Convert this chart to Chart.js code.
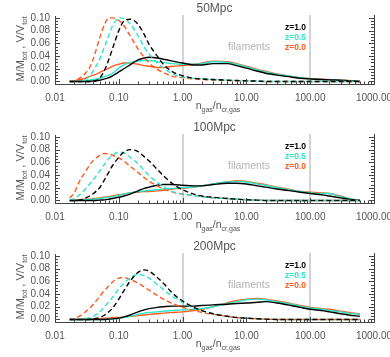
<!DOCTYPE html>
<html>
<head>
<meta charset="utf-8">
<script src="https://cdn.jsdelivr.net/npm/chart.js@4.4.0/dist/chart.umd.min.js"></script>
<style>
  html, body { margin: 0; padding: 0; background: #fff; }
  .panel { width: 390px; height: 119px; position: relative; }
</style>
</head>
<body>
<div class="panel"><canvas id="c50" width="390" height="119"></canvas></div>
<div class="panel"><canvas id="c100" width="390" height="119"></canvas></div>
<div class="panel"><canvas id="c200" width="390" height="119"></canvas></div>
<script>
// density grid (n_gas / n_cr,gas)
const xVals = [0.017, 0.02, 0.025, 0.03, 0.035, 0.04, 0.05, 0.06, 0.07, 0.08, 0.1, 0.12, 0.15, 0.2, 0.25, 0.3, 0.4, 0.5, 0.7,
  1, 1.5, 2, 3, 5, 7, 10, 15, 20, 30, 50, 70, 100, 150, 200, 300, 400, 600];

const xTickVals = [0.01, 0.1, 1, 10, 100, 1000];
const yTickVals = [0, 0.02, 0.04, 0.06, 0.08, 0.1];
const markerLines = [1, 100];
const redshifts = ['z=1.0', 'z=0.5', 'z=0.0'];
const titles = ['50Mpc', '100Mpc', '200Mpc'];

// 50 Mpc : volume fraction (dashed)
const vol50_z10 = [0, 0, 0, 0, 0, 0, 0.005, 0.018, 0.035, 0.052, 0.08, 0.095, 0.098, 0.09, 0.074, 0.058, 0.04, 0.027, 0.015,
  0.009, 0.005, 0.004, 0.003, 0.002, 0.0015, 0.001, 0.0005, 0, 0, 0, 0, 0, 0, 0, 0, 0, 0];
const vol50_z05 = [0, 0, 0, 0.003, 0.009, 0.017, 0.035, 0.055, 0.073, 0.088, 0.1, 0.099, 0.091, 0.072, 0.054, 0.043, 0.029, 0.021, 0.012,
  0.007, 0.005, 0.004, 0.003, 0.002, 0.0015, 0.001, 0.0005, 0, 0, 0, 0, 0, 0, 0, 0, 0, 0];
const vol50_z00 = [0, 0.001, 0.006, 0.013, 0.022, 0.036, 0.068, 0.09, 0.1, 0.1, 0.096, 0.088, 0.072, 0.051, 0.038, 0.029, 0.019, 0.014, 0.008,
  0.006, 0.004, 0.003, 0.002, 0.0015, 0.001, 0.001, 0.0005, 0, 0, 0, 0, 0, 0, 0, 0, 0, 0];
// 50 Mpc : mass fraction (solid)
const mass50_z10 = [0, 0, 0, 0, 0, 0.001, 0.002, 0.004, 0.006, 0.009, 0.015, 0.02, 0.026, 0.034, 0.037, 0.038, 0.037, 0.035, 0.032,
  0.029, 0.026, 0.026, 0.028, 0.028, 0.025, 0.021, 0.016, 0.013, 0.01, 0.007, 0.005, 0.004, 0.003, 0.0025, 0.002, 0.001, 0];
const mass50_z05 = [0, 0, 0, 0.001, 0.002, 0.003, 0.005, 0.008, 0.01, 0.013, 0.021, 0.026, 0.03, 0.032, 0.033, 0.033, 0.031, 0.03, 0.028,
  0.027, 0.027, 0.028, 0.031, 0.03, 0.027, 0.023, 0.018, 0.015, 0.011, 0.008, 0.006, 0.004, 0.003, 0.0025, 0.002, 0.001, 0];
const mass50_z00 = [0, 0.001, 0.003, 0.005, 0.008, 0.01, 0.014, 0.018, 0.021, 0.024, 0.027, 0.029, 0.029, 0.027, 0.025, 0.024, 0.022, 0.022, 0.024,
  0.025, 0.027, 0.029, 0.032, 0.031, 0.028, 0.024, 0.019, 0.016, 0.012, 0.008, 0.006, 0.0045, 0.0035, 0.003, 0.002, 0.0015, 0];

// 100 Mpc : volume fraction (dashed)
const vol100_z10 = [0, 0, 0.001, 0.004, 0.007, 0.011, 0.02, 0.033, 0.045, 0.055, 0.068, 0.076, 0.08, 0.077, 0.069, 0.062, 0.049, 0.039, 0.026,
  0.017, 0.01, 0.007, 0.005, 0.003, 0.002, 0.001, 0.0005, 0, 0, 0, 0, 0, 0, 0, 0, 0, 0];
const vol100_z05 = [0, 0.003, 0.01, 0.018, 0.026, 0.033, 0.046, 0.057, 0.066, 0.071, 0.076, 0.075, 0.068, 0.058, 0.047, 0.039, 0.029, 0.022, 0.014,
  0.01, 0.008, 0.006, 0.004, 0.003, 0.002, 0.001, 0.0005, 0, 0, 0, 0, 0, 0, 0, 0, 0, 0];
const vol100_z00 = [0.004, 0.012, 0.033, 0.045, 0.056, 0.063, 0.071, 0.074, 0.073, 0.071, 0.067, 0.062, 0.054, 0.044, 0.036, 0.03, 0.023, 0.018, 0.013,
  0.01, 0.008, 0.006, 0.004, 0.003, 0.002, 0.001, 0.0005, 0, 0, 0, 0, 0, 0, 0, 0, 0, 0];
// 100 Mpc : mass fraction (solid)
const mass100_z10 = [0, 0, 0, 0, 0, 0, 0.0005, 0.001, 0.002, 0.003, 0.005, 0.007, 0.01, 0.015, 0.019, 0.021, 0.024, 0.025, 0.025,
  0.024, 0.023, 0.023, 0.025, 0.027, 0.027, 0.026, 0.023, 0.021, 0.018, 0.015, 0.013, 0.011, 0.009, 0.007, 0.004, 0.002, 0];
const mass100_z05 = [0, 0, 0.0005, 0.001, 0.0015, 0.002, 0.003, 0.004, 0.005, 0.006, 0.008, 0.01, 0.012, 0.014, 0.015, 0.016, 0.017, 0.018, 0.019,
  0.02, 0.021, 0.023, 0.026, 0.029, 0.03, 0.029, 0.026, 0.024, 0.02, 0.016, 0.014, 0.012, 0.011, 0.011, 0.006, 0.003, 0];
const mass100_z00 = [0, 0.0005, 0.001, 0.002, 0.002, 0.003, 0.004, 0.005, 0.006, 0.007, 0.009, 0.01, 0.012, 0.013, 0.014, 0.014, 0.015, 0.016, 0.018,
  0.019, 0.021, 0.023, 0.026, 0.029, 0.031, 0.03, 0.027, 0.025, 0.021, 0.017, 0.014, 0.013, 0.012, 0.011, 0.007, 0.003, 0];

// 200 Mpc : volume fraction (dashed)
const vol200_z10 = [0, 0, 0, 0, 0, 0.001, 0.003, 0.007, 0.012, 0.018, 0.032, 0.045, 0.06, 0.074, 0.078, 0.076, 0.066, 0.057, 0.041,
  0.029, 0.019, 0.014, 0.009, 0.005, 0.003, 0.002, 0.001, 0.0005, 0, 0, 0, 0, 0, 0, 0, 0, 0];
const vol200_z05 = [0, 0, 0, 0.001, 0.003, 0.005, 0.012, 0.02, 0.028, 0.035, 0.048, 0.057, 0.065, 0.071, 0.069, 0.065, 0.055, 0.047, 0.036,
  0.027, 0.018, 0.014, 0.009, 0.005, 0.003, 0.002, 0.001, 0.0005, 0, 0, 0, 0, 0, 0, 0, 0, 0];
const vol200_z00 = [0, 0.001, 0.006, 0.012, 0.018, 0.024, 0.036, 0.046, 0.053, 0.059, 0.065, 0.066, 0.063, 0.057, 0.051, 0.046, 0.038, 0.032, 0.025,
  0.019, 0.014, 0.011, 0.008, 0.005, 0.003, 0.002, 0.001, 0.0005, 0, 0, 0, 0, 0, 0, 0, 0, 0];
// 200 Mpc : mass fraction (solid)
const mass200_z10 = [0, 0, 0, 0, 0, 0, 0, 0, 0.0005, 0.001, 0.002, 0.004, 0.007, 0.012, 0.015, 0.017, 0.019, 0.02, 0.021,
  0.021, 0.021, 0.022, 0.023, 0.024, 0.025, 0.026, 0.027, 0.028, 0.026, 0.022, 0.019, 0.016, 0.014, 0.012, 0.009, 0.007, 0.005];
const mass200_z05 = [0, 0, 0, 0, 0, 0, 0, 0, 0.0005, 0.001, 0.002, 0.003, 0.005, 0.008, 0.01, 0.011, 0.012, 0.013, 0.014,
  0.015, 0.016, 0.017, 0.02, 0.025, 0.028, 0.031, 0.032, 0.031, 0.028, 0.024, 0.021, 0.018, 0.016, 0.014, 0.012, 0.01, 0.008];
const mass200_z00 = [0, 0, 0, 0.0005, 0.001, 0.001, 0.001, 0.002, 0.002, 0.003, 0.003, 0.004, 0.005, 0.006, 0.007, 0.008, 0.009, 0.01, 0.011,
  0.012, 0.014, 0.016, 0.02, 0.026, 0.03, 0.032, 0.033, 0.032, 0.029, 0.025, 0.022, 0.019, 0.017, 0.016, 0.013, 0.011, 0.009];

const colors = ['#000000', '#2ee6c8', '#ff5a1e'];
const FONT = '"Liberation Sans", Arial, Helvetica, sans-serif';
const TEXT = '#555555';

// draw text with subscripts, parts = [[text, isSub], ...]
function richWidth(ctx, parts, size, subSize) {
  let w = 0;
  parts.forEach(([t, sub]) => {
    ctx.font = (sub ? subSize : size) + 'px ' + FONT;
    w += ctx.measureText(t).width;
  });
  return w;
}
function drawRich(ctx, parts, x, y, size, subSize) {
  let cx = x;
  parts.forEach(([t, sub]) => {
    ctx.font = (sub ? subSize : size) + 'px ' + FONT;
    ctx.fillText(t, cx, sub ? y + 2.5 : y);
    cx += ctx.measureText(t).width;
  });
}

const decor = {
  id: 'decor',
  beforeDatasetsDraw(chart) {
    const { ctx, chartArea: a, scales: { x } } = chart;
    ctx.save();
    ctx.strokeStyle = '#c6c6c6';
    ctx.lineWidth = 1.5;
    markerLines.forEach(v => {
      const px = Math.round(x.getPixelForValue(v));
      ctx.beginPath();
      ctx.moveTo(px, a.top - 1);
      ctx.lineTo(px, a.bottom);
      ctx.stroke();
    });
    ctx.restore();
  },
  afterDraw(chart, args, opts) {
    const { ctx, chartArea: a, scales: { x, y } } = chart;
    ctx.save();
    ctx.strokeStyle = '#444';
    ctx.lineWidth = 1;

    // right axis line
    ctx.beginPath();
    ctx.moveTo(a.right + 0.5, a.top - 1);
    ctx.lineTo(a.right + 0.5, a.bottom);
    ctx.stroke();

    // y ticks, inward on both sides
    for (let v = 0; v <= 0.1001; v += 0.005) {
      const major = Math.abs(v / 0.02 - Math.round(v / 0.02)) < 1e-6;
      const len = major ? 5 : 3;
      const py = Math.round(y.getPixelForValue(v)) + 0.5;
      ctx.beginPath();
      ctx.moveTo(a.left, py); ctx.lineTo(a.left + len, py);
      ctx.moveTo(a.right, py); ctx.lineTo(a.right - len, py);
      ctx.stroke();
    }
    // x ticks, inward
    for (let d = -2; d <= 2; d++) {
      for (let m = 1; m <= 9; m++) {
        const v = m * Math.pow(10, d);
        const px = Math.round(x.getPixelForValue(v)) + 0.5;
        const len = m === 1 ? 5 : 2.5;
        ctx.beginPath();
        ctx.moveTo(px, a.bottom); ctx.lineTo(px, a.bottom - len);
        ctx.stroke();
      }
    }
    const pr = Math.round(x.getPixelForValue(1000)) + 0.5;
    ctx.beginPath(); ctx.moveTo(pr, a.bottom); ctx.lineTo(pr, a.bottom - 5); ctx.stroke();

    // panel title
    ctx.fillStyle = TEXT;
    ctx.textBaseline = 'middle';
    ctx.textAlign = 'center';
    ctx.font = '12px ' + FONT;
    ctx.fillText(opts.title, (a.left + a.right) / 2, 9);

    // filaments label
    ctx.fillStyle = '#b4b4b4';
    ctx.font = '10.5px ' + FONT;
    ctx.fillText('filaments', 249, 47);

    // legend
    ctx.textAlign = 'left';
    ctx.font = 'bold 8.5px ' + FONT;
    redshifts.forEach((z, i) => {
      ctx.fillStyle = colors[i];
      ctx.fillText(z, 285, 28 + i * 10);
    });

    // x axis title
    ctx.fillStyle = TEXT;
    ctx.textBaseline = 'alphabetic';
    const xt = [['n', false], ['gas', true], ['/n', false], ['cr,gas', true]];
    const xw = richWidth(ctx, xt, 10.5, 7);
    drawRich(ctx, xt, 218 - xw / 2, 109, 10.5, 7);

    // y axis title, rotated
    const yt = [['M/M', false], ['tot', true], [' , V/V', false], ['tot', true]];
    const yw = richWidth(ctx, yt, 11, 7.5);
    ctx.translate(24, 49);
    ctx.rotate(-Math.PI / 2);
    drawRich(ctx, yt, -yw / 2, 0, 11, 7.5);
    ctx.restore();
  }
};

function toPoints(arr) {
  return xVals.map((v, i) => ({ x: v, y: arr[i] }));
}

function makePanel(id, title, massSeries, volSeries) {
  const datasets = [];
  volSeries.forEach((s, i) => datasets.push({
    data: toPoints(s), borderColor: colors[i], borderWidth: 1.4, borderDash: [5, 3]
  }));
  massSeries.forEach((s, i) => datasets.push({
    data: toPoints(s), borderColor: colors[i], borderWidth: 1.4
  }));

  new Chart(document.getElementById(id), {
    type: 'line',
    data: { datasets },
    options: {
      responsive: false,
      animation: false,
      devicePixelRatio: 1,
      layout: { padding: { top: 16, right: 16, left: 0, bottom: 0 } },
      elements: {
        point: { radius: 0 },
        line: { cubicInterpolationMode: 'monotone', fill: false }
      },
      plugins: { legend: { display: false }, tooltip: { enabled: false }, decor: { title } },
      scales: {
        x: {
          type: 'logarithmic', min: 0.01, max: 1000,
          grid: { display: false, drawTicks: false },
          border: { display: true, color: '#444', width: 1 },
          afterBuildTicks: s => { s.ticks = xTickVals.map(v => ({ value: v })); },
          afterFit: s => { s.height = 35; s.paddingLeft = 0; s.paddingRight = 0; },
          ticks: {
            autoSkip: false, maxRotation: 0, padding: 8, color: TEXT,
            font: { family: FONT, size: 10 },
            callback: v => Number(v).toFixed(2)
          }
        },
        y: {
          min: -0.004, max: 0.103,
          grid: { display: false, drawTicks: false },
          border: { display: true, color: '#444', width: 1 },
          afterBuildTicks: s => { s.ticks = yTickVals.map(v => ({ value: v })); },
          afterFit: s => { s.width = 55; s.paddingTop = 0; s.paddingBottom = 0; },
          ticks: {
            autoSkip: false, padding: 5, color: TEXT,
            font: { family: FONT, size: 10 },
            callback: v => Number(v).toFixed(2)
          }
        }
      }
    },
    plugins: [decor]
  });
}

makePanel('c50', titles[0], [mass50_z10, mass50_z05, mass50_z00], [vol50_z10, vol50_z05, vol50_z00]);
makePanel('c100', titles[1], [mass100_z10, mass100_z05, mass100_z00], [vol100_z10, vol100_z05, vol100_z00]);
makePanel('c200', titles[2], [mass200_z10, mass200_z05, mass200_z00], [vol200_z10, vol200_z05, vol200_z00]);
</script>
</body>
</html>
